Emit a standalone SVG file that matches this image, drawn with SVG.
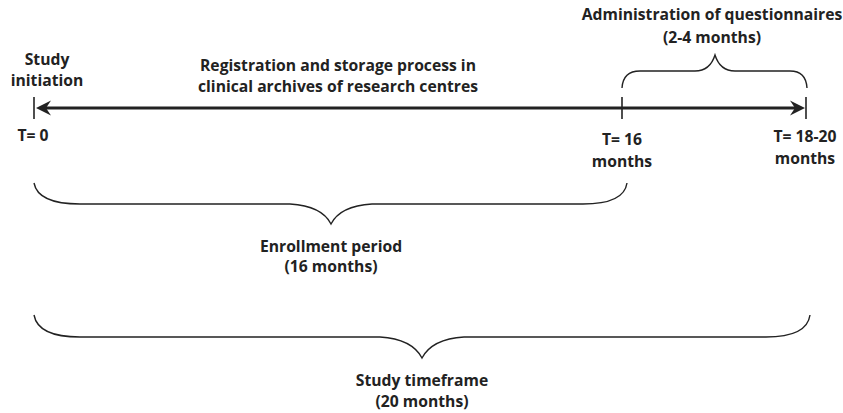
<svg xmlns="http://www.w3.org/2000/svg" width="843" height="413" viewBox="0 0 843 413">
<style>
text{font-family:"Open Sans","Lato","Liberation Sans",sans-serif;font-weight:bold;font-size:15.7px;fill:#222;text-anchor:middle}
.brace{fill:none;stroke:#222;stroke-width:1.4}
.tick{stroke:#222;stroke-width:1.6}
.axis{stroke:#222;stroke-width:3}
.head{fill:#222}
</style>
<rect width="843" height="413" fill="#fff"/>
<g id="connectors">
  <line class="axis" x1="42" y1="108" x2="798" y2="108"/>
  <path class="head" d="M36,108 L51,100.5 L46,108 L51,115.5 Z"/>
  <path class="head" d="M805,108 L790,100.5 L795,108 L790,115.5 Z"/>
  <line class="tick" x1="34" y1="97" x2="34" y2="119"/>
  <line class="tick" x1="622" y1="97" x2="622" y2="119"/>
  <line class="tick" x1="806" y1="97" x2="806" y2="119"/>
  <path class="brace" d="M622,88 Q623,71 640,71 L695,71 Q710,71 715,55 Q720,71 735,71 L790,71 Q806,71 807,88"/>
  <path class="brace" d="M34,183 Q38,204 80,204 L290,204 Q322,206 331,224 Q340,206 372,204 L583,204 Q624,204 627,183"/>
  <path class="brace" d="M34,315 Q38,337 80,337 L380,337 Q412,339 422,358 Q432,339 464,337 L766,337 Q807,337 810,315"/>
</g>
<g id="study-initiation"><text x="47" y="65">Study</text><text x="47" y="86">initiation</text></g>
<g id="registration"><text x="338" y="71">Registration and storage process in</text><text x="338" y="92">clinical archives of research centres</text></g>
<g id="questionnaires"><text x="712" y="20">Administration of questionnaires</text><text x="712" y="43">(2-4 months)</text></g>
<g id="t0"><text x="33" y="141">T= 0</text></g>
<g id="t16"><text x="622" y="145">T= 16</text><text x="622" y="167">months</text></g>
<g id="t1820"><text x="805" y="142">T= 18-20</text><text x="805" y="164">months</text></g>
<g id="enrollment"><text x="331" y="252">Enrollment period</text><text x="331" y="272">(16 months)</text></g>
<g id="timeframe"><text x="422" y="386">Study timeframe</text><text x="422" y="407">(20 months)</text></g>
</svg>
